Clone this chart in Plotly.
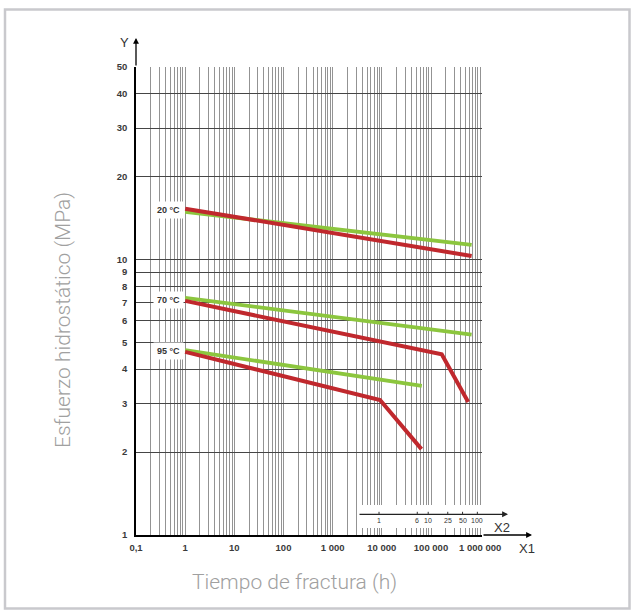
import math
import plotly.graph_objects as go

# ---------------- data ----------------
# time to failure (h) and hydrostatic stress (MPa)
t_20 = [1, 6.7e5]
red_20 = [15.3, 10.3]
green_20 = [14.9, 11.3]

t_70_green = [1, 6.7e5]
green_70 = [7.26, 5.34]
t_70_red = [1, 1.65e5, 5.7e5]
red_70 = [7.08, 4.53, 3.04]

t_95_green = [1, 6.5e4]
green_95 = [4.69, 3.48]
t_95_red = [1, 9200, 6.4e4]
red_95 = [4.62, 3.09, 2.05]

temp_labels = ["20 °C", "70 °C", "95 °C"]
temp_label_stress = [15.1, 7.15, 4.65]

x_tickvals = [0.1, 1, 10, 100, 1000, 1e4, 1e5, 1e6]
x_ticktext = ["0,1", "1", "10", "100", "1 000", "10 000", "100 000", "1 000 000"]
y_tickvals = [1, 2, 3, 4, 5, 6, 7, 8, 9, 10, 20, 30, 40, 50]
y_ticktext = [str(v) for v in y_tickvals]

x2_years = [1, 6, 10, 25, 50, 100]
x2_labels = ["1", "6", "10", "25", "50", "100"]
HOURS_PER_YEAR = 8760

RED = "#c0282d"
GREEN = "#8cc63e"

# ---------------- layout geometry ----------------
W, H = 635, 614
PL, PR, PT, PB = 136, 482, 67, 535      # plot area in screen pixels
PW, PH = PR - PL, PB - PT
L, T = PL, PT
R, B = W - PR, H - PB
XR = [-1, 6.037]
YR = [0, math.log10(50)]


def px(xp):
    return (xp - PL) / PW


def py(yp):
    return (PB - yp) / PH


fig = go.Figure()

for t, g in [(t_20, green_20), (t_70_green, green_70), (t_95_green, green_95)]:
    fig.add_trace(go.Scatter(x=t, y=g, mode="lines",
                             line=dict(color=GREEN, width=3.8), hoverinfo="skip"))
for t, r in [(t_20, red_20), (t_70_red, red_70), (t_95_red, red_95)]:
    fig.add_trace(go.Scatter(x=t, y=r, mode="lines",
                             line=dict(color=RED, width=4), hoverinfo="skip"))

tickfont = dict(family="Liberation Sans, Arial, sans-serif", size=9.5, color="#3a3a3a", weight="bold")

minor_x = [m * 10 ** e for e in range(-1, 6) for m in range(2, 10)]

fig.update_xaxes(type="log", range=XR, tickmode="array", tickvals=x_tickvals,
                 ticktext=x_ticktext, tickfont=tickfont, showgrid=True,
                 gridcolor="#939393", gridwidth=1.4, showline=True,
                 linecolor="black", linewidth=1.5, ticks="", ticklabelstandoff=3,
                 minor=dict(tickvals=minor_x, showgrid=True, gridcolor="#939393",
                            gridwidth=1.4, ticks=""),
                 zeroline=False, fixedrange=True)
fig.update_yaxes(type="log", range=YR, tickmode="array", tickvals=y_tickvals,
                 ticktext=y_ticktext, tickfont=tickfont, showgrid=True,
                 gridcolor="#454545", gridwidth=1.2, showline=True,
                 linecolor="black", linewidth=1.5, ticks="", ticklabelstandoff=5,
                 zeroline=False, fixedrange=True)

shapes = []
# outer light frame
shapes.append(dict(type="rect", xref="paper", yref="paper",
                   x0=px(5), x1=px(629.5), y0=py(608.5), y1=py(9.5),
                   line=dict(color="#c9c9cd", width=2.5), fillcolor="rgba(0,0,0,0)"))
# white inset box for X2 axis
shapes.append(dict(type="rect", xref="paper", yref="paper",
                   x0=px(358), x1=1.0, y0=py(528), y1=py(505),
                   line=dict(width=0), fillcolor="white", layer="above"))

C = dict(xanchor="center", yanchor="middle")
ann = []
# temperature labels
for lab, s in zip(temp_labels, temp_label_stress):
    ann.append(dict(xref="paper", yref="y", x=px(168.5), y=math.log10(s), text=lab,
                    showarrow=False, bgcolor="white", borderpad=3, **C,
                    font=dict(family="Liberation Sans, Arial, sans-serif", size=9,
                              color="#333", weight="bold")))
# Y axis arrow + label
ann.append(dict(xref="paper", yref="paper", x=0, y=py(38), ax=0, ay=29, text="",
                showarrow=True, arrowhead=2, arrowsize=0.9, arrowwidth=1.3,
                arrowcolor="black"))
ann.append(dict(xref="paper", yref="paper", x=px(124), y=py(43), text="Y", **C,
                showarrow=False, font=dict(family="Liberation Sans, Arial", size=13, color="#333")))
# X1 arrow + label
ann.append(dict(xref="paper", yref="paper", x=px(532), y=0, ax=-50, ay=0, text="",
                showarrow=True, arrowhead=2, arrowsize=0.9, arrowwidth=1.3,
                arrowcolor="black"))
ann.append(dict(xref="paper", yref="paper", x=px(527), y=py(548), text="X1", **C,
                showarrow=False, font=dict(family="Liberation Sans, Arial", size=13, color="#333")))
# X2 arrow + label
ann.append(dict(xref="paper", yref="paper", x=px(508), y=py(514.3), ax=-150, ay=0, text="",
                showarrow=True, arrowhead=2, arrowsize=0.9, arrowwidth=1.3,
                arrowcolor="#222"))
ann.append(dict(xref="paper", yref="paper", x=px(502), y=py(527), text="X2", **C,
                showarrow=False, font=dict(family="Liberation Sans, Arial", size=13, color="#333")))
# X2 ticks and labels (years converted to hours)
for yr, lab in zip(x2_years, x2_labels):
    xv = math.log10(yr * HOURS_PER_YEAR)
    ann.append(dict(xref="x", yref="paper", x=xv, y=py(514.3), ax=0, ay=-4, text="",
                    showarrow=True, arrowhead=0, arrowwidth=1, arrowcolor="#333"))
    ann.append(dict(xref="x", yref="paper", x=xv, y=py(520), text=lab, showarrow=False, **C,
                    font=dict(family="Liberation Sans, Arial", size=7, color="#333")))
# axis titles
titlefont = dict(family="Roboto, Liberation Sans, sans-serif", size=21, color="#a0a0a0", weight=300)
ann.append(dict(xref="paper", yref="paper", x=px(294), y=py(582), text="Tiempo de fractura (h)",
                showarrow=False, font=titlefont, **C))
ann.append(dict(xref="paper", yref="paper", x=px(63), y=py(320), text="Esfuerzo hidrostático (MPa)",
                showarrow=False, textangle=-90, font=titlefont, **C))

fig.update_layout(width=W, height=H, margin=dict(l=L, r=R, t=T, b=B, autoexpand=False),
                  paper_bgcolor="white", plot_bgcolor="white", showlegend=False,
                  shapes=shapes, annotations=ann)

fig.write_html("out.html", config={"displayModeBar": False},
               post_script="document.body.style.margin='0';document.body.style.overflow='hidden';")
